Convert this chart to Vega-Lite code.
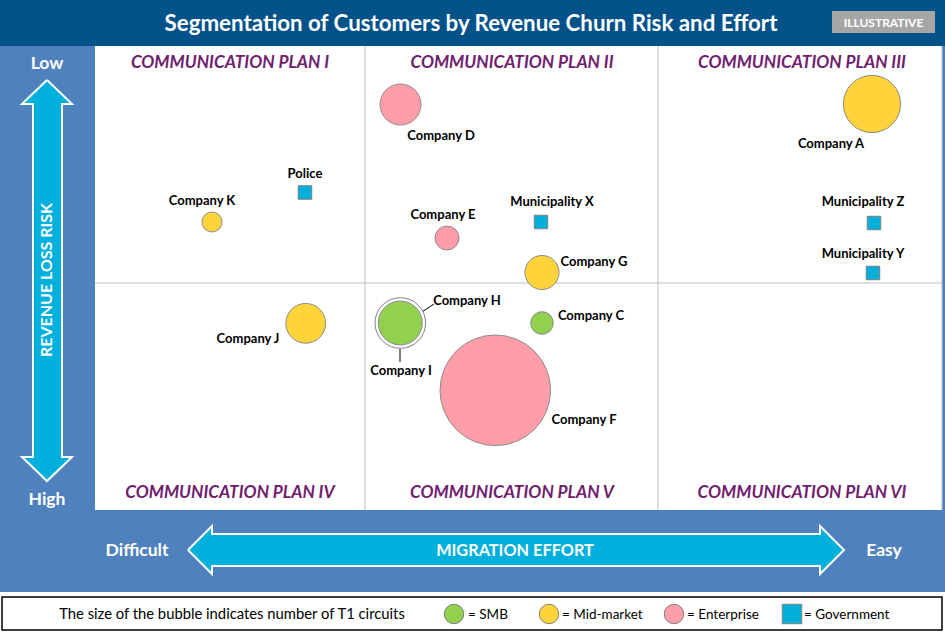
{
  "$schema": "https://vega.github.io/schema/vega-lite/v6.json",
  "width": 945,
  "height": 633,
  "padding": 0,
  "autosize": {"type": "none"},
  "background": "white",
  "config": {"view": {"stroke": null}, "text": {"font": "Lato", "dy": 1}},
  "datasets": {
    "frame": [{"x1": 0, "x2": 945, "y1": 46, "y2": 592}],
    "titlebar": [{"x1": 0, "x2": 945, "y1": 0, "y2": 46}],
    "plot": [{"x1": 95, "x2": 942, "y1": 46, "y2": 510}],
    "grid": [
      {"x1": 365, "x2": 365, "y1": 46, "y2": 510},
      {"x1": 658, "x2": 658, "y1": 46, "y2": 510},
      {"x1": 95, "x2": 942, "y1": 283, "y2": 283},
      {"x1": 942, "x2": 942, "y1": 46, "y2": 510}
    ],
    "legendbox": [{"x1": 2, "x2": 942, "y1": 597, "y2": 630}],
    "badge": [{"x1": 832, "x2": 935, "y1": 11, "y2": 33, "text": "ILLUSTRATIVE", "cx": 883.5, "cy": 22}],
    "arrows": [
      {"arrow": "risk", "o": 1, "x": 47, "y": 80},
      {"arrow": "risk", "o": 2, "x": 72, "y": 104},
      {"arrow": "risk", "o": 3, "x": 62, "y": 104},
      {"arrow": "risk", "o": 4, "x": 62, "y": 457},
      {"arrow": "risk", "o": 5, "x": 72, "y": 457},
      {"arrow": "risk", "o": 6, "x": 47, "y": 481},
      {"arrow": "risk", "o": 7, "x": 22, "y": 457},
      {"arrow": "risk", "o": 8, "x": 33, "y": 457},
      {"arrow": "risk", "o": 9, "x": 33, "y": 104},
      {"arrow": "risk", "o": 10, "x": 22, "y": 104},
      {"arrow": "risk", "o": 11, "x": 47, "y": 80},
      {"arrow": "effort", "o": 1, "x": 188, "y": 550},
      {"arrow": "effort", "o": 2, "x": 212, "y": 526},
      {"arrow": "effort", "o": 3, "x": 212, "y": 534},
      {"arrow": "effort", "o": 4, "x": 820, "y": 534},
      {"arrow": "effort", "o": 5, "x": 820, "y": 526},
      {"arrow": "effort", "o": 6, "x": 844, "y": 550},
      {"arrow": "effort", "o": 7, "x": 820, "y": 574},
      {"arrow": "effort", "o": 8, "x": 820, "y": 566},
      {"arrow": "effort", "o": 9, "x": 212, "y": 566},
      {"arrow": "effort", "o": 10, "x": 212, "y": 574},
      {"arrow": "effort", "o": 11, "x": 188, "y": 550}
    ],
    "axiswords": [
      {"text": "Low", "x": 47, "y": 63},
      {"text": "High", "x": 47, "y": 499},
      {"text": "Difficult", "x": 137, "y": 550},
      {"text": "Easy", "x": 884, "y": 550}
    ],
    "quadrants": [
      {"text": "COMMUNICATION PLAN I", "x": 230, "y": 62},
      {"text": "COMMUNICATION PLAN II", "x": 512, "y": 62},
      {"text": "COMMUNICATION PLAN III", "x": 802, "y": 62},
      {"text": "COMMUNICATION PLAN IV", "x": 230, "y": 492},
      {"text": "COMMUNICATION PLAN V", "x": 512, "y": 492},
      {"text": "COMMUNICATION PLAN VI", "x": 802, "y": 492}
    ],
    "leaders": [
      {"x1": 408, "y1": 321, "x2": 434, "y2": 304},
      {"x1": 400, "y1": 349, "x2": 400, "y2": 362}
    ],
    "customers": [
      {"company": "Company A", "segment": "Mid-market", "effort": 872, "risk": 104, "circuits": 820, "lx": 831, "ly": 143},
      {"company": "Company D", "segment": "Enterprise", "effort": 400.5, "risk": 104.5, "circuits": 420, "lx": 441, "ly": 135},
      {"company": "Company K", "segment": "Mid-market", "effort": 212, "risk": 222, "circuits": 100, "lx": 202, "ly": 200},
      {"company": "Company E", "segment": "Enterprise", "effort": 447, "risk": 238, "circuits": 144, "lx": 443, "ly": 214},
      {"company": "Company G", "segment": "Mid-market", "effort": 542, "risk": 272.5, "circuits": 290, "lx": 594, "ly": 261},
      {"company": "Company J", "segment": "Mid-market", "effort": 305.7, "risk": 323.3, "circuits": 395, "lx": 248, "ly": 338},
      {"company": "Company I", "segment": "SMB", "effort": 400.3, "risk": 323, "circuits": 640, "lx": 401, "ly": 370},
      {"company": "Company H", "segment": "SMB", "effort": 400.3, "risk": 323, "circuits": 484, "lx": 467, "ly": 300},
      {"company": "Company C", "segment": "SMB", "effort": 542, "risk": 323, "circuits": 128, "lx": 591, "ly": 315},
      {"company": "Company F", "segment": "Enterprise", "effort": 495.3, "risk": 390.3, "circuits": 3058, "lx": 584, "ly": 419},
      {"company": "Police", "segment": "Government", "effort": 305, "risk": 192.5, "lx": 305, "ly": 173},
      {"company": "Municipality X", "segment": "Government", "effort": 541, "risk": 222, "lx": 552, "ly": 201},
      {"company": "Municipality Z", "segment": "Government", "effort": 874, "risk": 223, "lx": 863, "ly": 201},
      {"company": "Municipality Y", "segment": "Government", "effort": 873, "risk": 273, "lx": 863, "ly": 253}
    ],
    "legenditems": [
      {"segment": "SMB", "x": 454, "tx": 468, "label": "= SMB"},
      {"segment": "Mid-market", "x": 549, "tx": 562, "label": "= Mid-market"},
      {"segment": "Enterprise", "x": 674, "tx": 687, "label": "= Enterprise"},
      {"segment": "Government", "x": 792, "tx": 804, "label": "= Government"}
    ]
  },
  "layer": [
    {
      "data": {"name": "frame"},
      "mark": {"type": "rect", "fill": "#4F81BD"},
      "encoding": {
        "x": {"field": "x1", "type": "quantitative", "scale": {"domain": [0, 945], "nice": false, "zero": false}, "axis": null},
        "x2": {"field": "x2"},
        "y": {"field": "y1", "type": "quantitative", "scale": {"domain": [0, 633], "nice": false, "zero": false, "reverse": true}, "axis": null},
        "y2": {"field": "y2"}
      }
    },
    {
      "data": {"name": "titlebar"},
      "mark": {"type": "rect", "fill": "#03528A"},
      "encoding": {
        "x": {"field": "x1", "type": "quantitative"},
        "x2": {"field": "x2"},
        "y": {"field": "y1", "type": "quantitative"},
        "y2": {"field": "y2"}
      }
    },
    {
      "data": {"name": "plot"},
      "mark": {"type": "rect", "fill": "white"},
      "encoding": {
        "x": {"field": "x1", "type": "quantitative"},
        "x2": {"field": "x2"},
        "y": {"field": "y1", "type": "quantitative"},
        "y2": {"field": "y2"}
      }
    },
    {
      "data": {"name": "grid"},
      "mark": {"type": "rule", "stroke": "#BFBFBF", "strokeWidth": 1},
      "encoding": {
        "x": {"field": "x1", "type": "quantitative"},
        "x2": {"field": "x2"},
        "y": {"field": "y1", "type": "quantitative"},
        "y2": {"field": "y2"}
      }
    },
    {
      "data": {"name": "legendbox"},
      "mark": {"type": "rect", "fill": "white", "stroke": "black", "strokeWidth": 1.5},
      "encoding": {
        "x": {"field": "x1", "type": "quantitative"},
        "x2": {"field": "x2"},
        "y": {"field": "y1", "type": "quantitative"},
        "y2": {"field": "y2"}
      }
    },
    {
      "data": {"name": "badge"},
      "mark": {"type": "rect", "fill": "#A6A6A6"},
      "encoding": {
        "x": {"field": "x1", "type": "quantitative"},
        "x2": {"field": "x2"},
        "y": {"field": "y1", "type": "quantitative"},
        "y2": {"field": "y2"}
      }
    },
    {
      "data": {"name": "badge"},
      "mark": {"type": "text", "color": "white", "fontWeight": "bold", "fontSize": 12, "align": "center", "baseline": "middle"},
      "encoding": {
        "x": {"field": "cx", "type": "quantitative"},
        "y": {"field": "cy", "type": "quantitative"},
        "text": {"field": "text"}
      }
    },
    {
      "data": {"values": [{"text": "Segmentation of Customers by Revenue Churn Risk and Effort", "x": 471, "y": 23}]},
      "mark": {"type": "text", "color": "white", "fontWeight": "bold", "fontSize": 22.3, "align": "center", "baseline": "middle"},
      "encoding": {
        "x": {"field": "x", "type": "quantitative"},
        "y": {"field": "y", "type": "quantitative"},
        "text": {"field": "text"}
      }
    },
    {
      "data": {"name": "arrows"},
      "mark": {"type": "line", "fill": "#00B0DC", "stroke": "white", "strokeWidth": 2, "strokeJoin": "miter"},
      "encoding": {
        "x": {"field": "x", "type": "quantitative"},
        "y": {"field": "y", "type": "quantitative"},
        "detail": {"field": "arrow"},
        "order": {"field": "o", "type": "quantitative"}
      }
    },
    {
      "data": {"name": "axiswords"},
      "mark": {"type": "text", "color": "white", "fontWeight": "bold", "fontSize": 17.5, "align": "center", "baseline": "middle"},
      "encoding": {
        "x": {"field": "x", "type": "quantitative"},
        "y": {"field": "y", "type": "quantitative"},
        "text": {"field": "text"}
      }
    },
    {
      "data": {"values": [{"text": "MIGRATION EFFORT", "x": 515, "y": 550}]},
      "mark": {"type": "text", "color": "white", "fontWeight": "bold", "fontSize": 16.3, "align": "center", "baseline": "middle"},
      "encoding": {
        "x": {"field": "x", "type": "quantitative"},
        "y": {"field": "y", "type": "quantitative"},
        "text": {"field": "text"}
      }
    },
    {
      "data": {"values": [{"text": "REVENUE LOSS RISK", "x": 47, "y": 281}]},
      "mark": {"type": "text", "color": "white", "fontWeight": "bold", "fontSize": 16, "align": "center", "baseline": "middle", "angle": 270, "dy": 0, "dx": 1},
      "encoding": {
        "x": {"field": "x", "type": "quantitative"},
        "y": {"field": "y", "type": "quantitative"},
        "text": {"field": "text"}
      }
    },
    {
      "data": {"name": "quadrants"},
      "mark": {"type": "text", "color": "#70206E", "fontWeight": "bold", "fontStyle": "italic", "fontSize": 17.3, "align": "center", "baseline": "middle"},
      "encoding": {
        "x": {"field": "x", "type": "quantitative"},
        "y": {"field": "y", "type": "quantitative"},
        "text": {"field": "text"}
      }
    },
    {
      "data": {"name": "leaders"},
      "mark": {"type": "rule", "stroke": "black", "strokeWidth": 1},
      "encoding": {
        "x": {"field": "x1", "type": "quantitative"},
        "x2": {"field": "x2"},
        "y": {"field": "y1", "type": "quantitative"},
        "y2": {"field": "y2"}
      }
    },
    {
      "data": {"name": "customers"},
      "transform": [{"filter": "datum.company === 'Company I'"}],
      "mark": {"type": "point", "shape": "circle", "filled": true, "fill": "white", "stroke": "#7F7F7F", "strokeWidth": 1, "opacity": 1},
      "encoding": {
        "x": {"field": "effort", "type": "quantitative"},
        "y": {"field": "risk", "type": "quantitative"},
        "size": {"field": "circuits", "type": "quantitative", "scale": {"type": "linear", "domain": [0, 1000], "range": [0, 4000], "zero": true, "nice": false}, "legend": null}
      }
    },
    {
      "data": {"name": "customers"},
      "transform": [{"filter": "datum.segment !== 'Government' && datum.company !== 'Company I'"}],
      "mark": {"type": "point", "shape": "circle", "filled": true, "stroke": "#8C8C8C", "strokeWidth": 1, "opacity": 1},
      "encoding": {
        "x": {"field": "effort", "type": "quantitative"},
        "y": {"field": "risk", "type": "quantitative"},
        "size": {"field": "circuits", "type": "quantitative", "scale": {"type": "linear", "domain": [0, 1000], "range": [0, 4000], "zero": true, "nice": false}, "legend": null},
        "color": {"field": "segment", "type": "nominal", "scale": {"domain": ["SMB", "Mid-market", "Enterprise", "Government"], "range": ["#92D050", "#FFD43B", "#FF9DA8", "#00B0DA"]}, "legend": null},
        "order": {"field": "circuits", "type": "quantitative", "sort": "descending"}
      }
    },
    {
      "data": {"name": "customers"},
      "transform": [{"filter": "datum.segment === 'Government'"}],
      "mark": {"type": "point", "shape": "square", "filled": true, "size": 182, "stroke": "#7F7F7F", "strokeWidth": 1, "opacity": 1},
      "encoding": {
        "x": {"field": "effort", "type": "quantitative"},
        "y": {"field": "risk", "type": "quantitative"},
        "color": {"field": "segment", "type": "nominal", "legend": null}
      }
    },
    {
      "data": {"name": "customers"},
      "mark": {"type": "text", "color": "black", "fontWeight": "bold", "fontSize": 13, "align": "center", "baseline": "middle"},
      "encoding": {
        "x": {"field": "lx", "type": "quantitative"},
        "y": {"field": "ly", "type": "quantitative"},
        "text": {"field": "company"}
      }
    },
    {
      "data": {"values": [{"text": "The size of the bubble indicates number of T1 circuits", "x": 232, "y": 614}]},
      "mark": {"type": "text", "color": "black", "fontSize": 14.8, "align": "center", "baseline": "middle"},
      "encoding": {
        "x": {"field": "x", "type": "quantitative"},
        "y": {"field": "y", "type": "quantitative"},
        "text": {"field": "text"}
      }
    },
    {
      "data": {"name": "legenditems"},
      "mark": {"type": "point", "filled": true, "size": 380, "stroke": "#7F7F7F", "strokeWidth": 1, "opacity": 1},
      "encoding": {
        "x": {"field": "x", "type": "quantitative"},
        "y": {"datum": 614, "type": "quantitative"},
        "color": {"field": "segment", "type": "nominal", "legend": null},
        "shape": {"field": "segment", "type": "nominal", "scale": {"domain": ["SMB", "Mid-market", "Enterprise", "Government"], "range": ["circle", "circle", "circle", "square"]}, "legend": null}
      }
    },
    {
      "data": {"name": "legenditems"},
      "mark": {"type": "text", "color": "black", "fontSize": 13.5, "align": "left", "baseline": "middle"},
      "encoding": {
        "x": {"field": "tx", "type": "quantitative"},
        "y": {"datum": 614, "type": "quantitative"},
        "text": {"field": "label"}
      }
    }
  ]
}
